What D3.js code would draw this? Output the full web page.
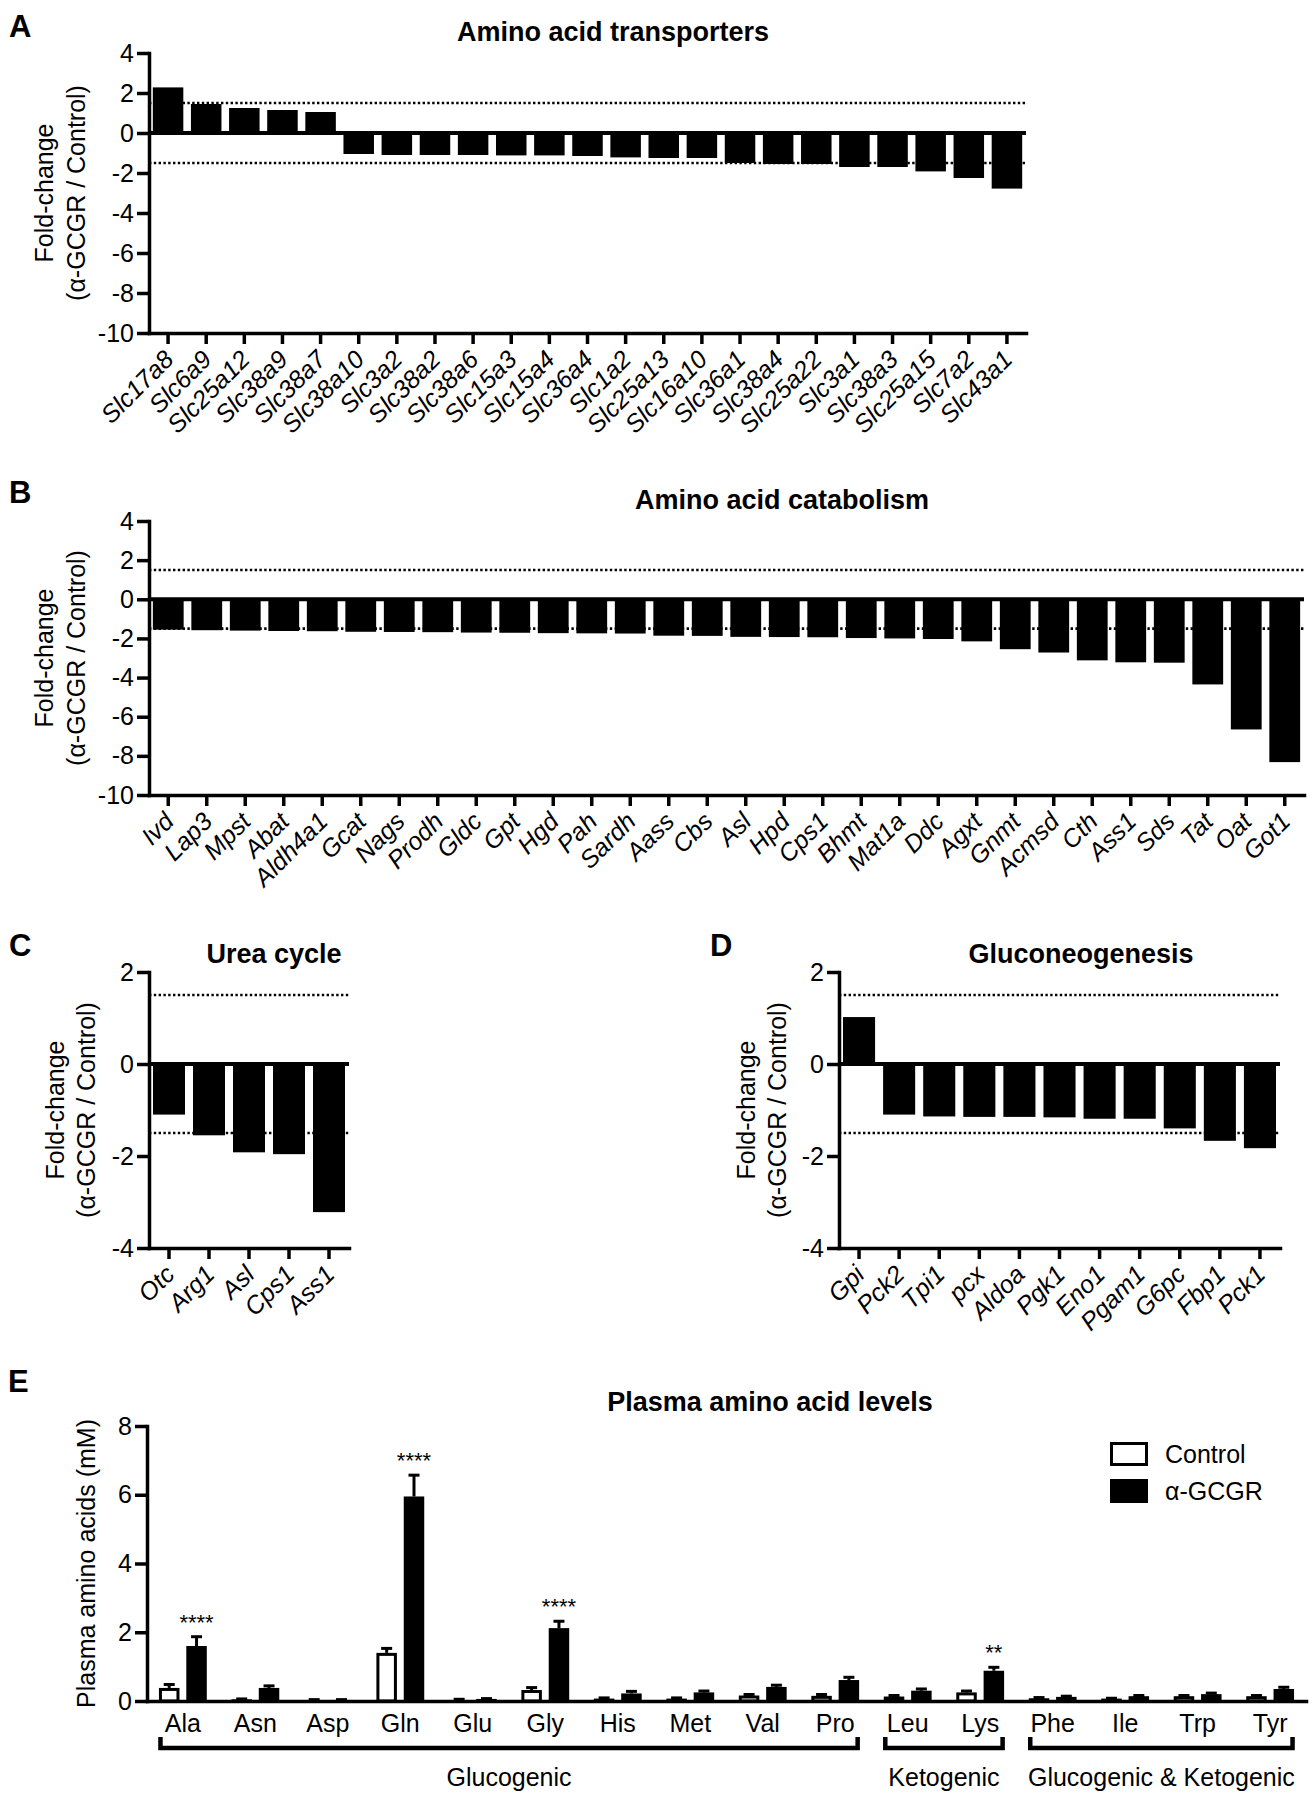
<!DOCTYPE html>
<html>
<head>
<meta charset="utf-8">
<title>Amino acid metabolism after glucagon receptor blockade</title>
<script src="https://cdn.jsdelivr.net/npm/d3@7"></script>
<style>
    body { margin: 0; background: #fff; }
    svg text { font-family: "Liberation Sans", Arial, Helvetica, sans-serif; fill: #000; }
</style>
</head>
<body>
<div id="chartholder"></div>
<script>
// ---- data ----
var transporterGenes = ['Slc17a8', 'Slc6a9', 'Slc25a12', 'Slc38a9', 'Slc38a7', 'Slc38a10', 'Slc3a2', 'Slc38a2',
    'Slc38a6', 'Slc15a3', 'Slc15a4', 'Slc36a4', 'Slc1a2', 'Slc25a13', 'Slc16a10', 'Slc36a1', 'Slc38a4',
    'Slc25a22', 'Slc3a1', 'Slc38a3', 'Slc25a15', 'Slc7a2', 'Slc43a1'];
var transporterFold = [2.28, 1.45, 1.25, 1.15, 1.05, -1.05, -1.1, -1.1, -1.1, -1.12, -1.12, -1.15, -1.22,
    -1.25, -1.25, -1.5, -1.55, -1.55, -1.7, -1.7, -1.92, -2.25, -2.78];

var catabolismGenes = ['Ivd', 'Lap3', 'Mpst', 'Abat', 'Aldh4a1', 'Gcat', 'Nags', 'Prodh', 'Gldc', 'Gpt', 'Hgd',
    'Pah', 'Sardh', 'Aass', 'Cbs', 'Asl', 'Hpd', 'Cps1', 'Bhmt', 'Mat1a', 'Ddc', 'Agxt', 'Gnmt', 'Acmsd',
    'Cth', 'Ass1', 'Sds', 'Tat', 'Oat', 'Got1'];
var catabolismFold = [-1.55, -1.58, -1.6, -1.62, -1.63, -1.66, -1.67, -1.68, -1.7, -1.71, -1.73, -1.74, -1.75,
    -1.86, -1.87, -1.92, -1.93, -1.94, -1.98, -2.0, -2.03, -2.15, -2.55, -2.72, -3.12, -3.22, -3.24, -4.35,
    -6.65, -8.32];

var ureaGenes = ['Otc', 'Arg1', 'Asl', 'Cps1', 'Ass1'];
var ureaFold = [-1.1, -1.55, -1.92, -1.96, -3.22];

var gngGenes = ['Gpi', 'Pck2', 'Tpi1', 'pcx', 'Aldoa', 'Pgk1', 'Eno1', 'Pgam1', 'G6pc', 'Fbp1', 'Pck1'];
var gngFold = [1.02, -1.1, -1.14, -1.15, -1.15, -1.16, -1.19, -1.19, -1.4, -1.67, -1.83];

var thresholds = [1.5, -1.5];
var foldTicksWide = [4, 2, 0, -2, -4, -6, -8, -10];
var foldTicksShort = [2, 0, -2, -4];

var aminoAcids = ['Ala', 'Asn', 'Asp', 'Gln', 'Glu', 'Gly', 'His', 'Met', 'Val', 'Pro', 'Leu', 'Lys', 'Phe', 'Ile', 'Trp', 'Tyr'];
var treatments = ['Control', 'α-GCGR'];
var controlMean = [0.38, 0.05, 0.03, 1.40, 0.04, 0.32, 0.07, 0.07, 0.16, 0.15, 0.13, 0.25, 0.08, 0.07, 0.14, 0.14];
var controlErr  = [0.10, 0.01, 0.01, 0.13, 0.01, 0.07, 0.02, 0.02, 0.03, 0.04, 0.03, 0.04, 0.02, 0.01, 0.02, 0.02];
var gcgrMean    = [1.60, 0.38, 0.03, 5.95, 0.06, 2.12, 0.22, 0.25, 0.41, 0.61, 0.30, 0.88, 0.12, 0.14, 0.20, 0.35];
var gcgrErr     = [0.27, 0.06, 0.01, 0.62, 0.01, 0.20, 0.06, 0.04, 0.05, 0.08, 0.05, 0.10, 0.02, 0.02, 0.03, 0.05];
var significance = ['****', '', '', '****', '', '****', '', '', '', '', '', '**', '', '', '', ''];
var plasmaTicks = [0, 2, 4, 6, 8];
var groupNames = ['Glucogenic', 'Ketogenic', 'Glucogenic & Ketogenic'];
var groupFirst = ['Ala', 'Leu', 'Phe'];
var groupLast  = ['Pro', 'Lys', 'Tyr'];

// ---- drawing ----
var svg = d3.select('#chartholder').append('svg')
    .attr('width', 1316)
    .attr('height', 1800);

function styleAxis(g) {
    g.attr('font-size', null).attr('font-family', null);
    g.select('.domain').attr('stroke-width', 3.5).attr('stroke-linecap', 'square');
    g.selectAll('.tick line').attr('stroke-width', 3.5);
    g.selectAll('.tick text').attr('font-size', 25);
}

function panelLetter(letter, x, y) {
    svg.append('text').attr('x', x).attr('y', y)
        .attr('font-size', 31).attr('font-weight', 'bold')
        .text(letter);
}

function panelTitle(text, cx, y) {
    svg.append('text').attr('x', cx).attr('y', y)
        .attr('text-anchor', 'middle')
        .attr('font-size', 27).attr('font-weight', 'bold')
        .text(text);
}

function foldTitle(x1, x2, cy) {
    [['Fold-change', x1], ['(α-GCGR / Control)', x2]].forEach(function (t) {
        svg.append('text')
            .attr('transform', 'translate(' + t[1] + ',' + cy + ') rotate(-90)')
            .attr('text-anchor', 'middle').attr('dy', '0.35em')
            .attr('font-size', 25)
            .text(t[0]);
    });
}

function foldPanel(opt) {
    var g = svg.append('g');

    var xScale = d3.scaleBand()
        .domain(opt.genes)
        .range([opt.left, opt.right])
        .paddingInner(0.2)
        .paddingOuter(0.1);

    var yScale = d3.scaleLinear()
        .domain([opt.ticks[opt.ticks.length - 1], opt.ticks[0]])
        .range([opt.bottom, opt.top]);

    // +/- 1.5 fold cut-offs
    g.selectAll('line.cutoff')
        .data(thresholds)
        .enter().append('line')
            .attr('x1', opt.left).attr('x2', opt.right)
            .attr('y1', function (d) { return yScale(d); })
            .attr('y2', function (d) { return yScale(d); })
            .attr('stroke', '#000').attr('stroke-width', 2.6)
            .attr('stroke-dasharray', '2.4,2.4');

    g.selectAll('rect.bar')
        .data(opt.values)
        .enter().append('rect')
            .attr('x', function (d, i) { return xScale(opt.genes[i]); })
            .attr('width', xScale.bandwidth())
            .attr('y', function (d) { return yScale(Math.max(0, d)); })
            .attr('height', function (d) { return Math.abs(yScale(d) - yScale(0)); })
            .attr('fill', '#000');

    // zero line
    g.append('line')
        .attr('x1', opt.left).attr('x2', opt.right)
        .attr('y1', yScale(0)).attr('y2', yScale(0))
        .attr('stroke', '#000').attr('stroke-width', 4);

    var yAxis = g.append('g')
        .attr('transform', 'translate(' + opt.left + ',0)')
        .call(d3.axisLeft(yScale).tickValues(opt.ticks)
            .tickFormat(function (d) { return String(d); })
            .tickSize(12).tickSizeOuter(0).tickPadding(3));
    styleAxis(yAxis);

    var xAxis = g.append('g')
        .attr('transform', 'translate(0,' + opt.bottom + ')')
        .call(d3.axisBottom(xScale).tickSize(11).tickSizeOuter(0));
    styleAxis(xAxis);
    xAxis.selectAll('.tick text')
        .attr('x', 0).attr('y', 0).attr('dy', 0)
        .attr('transform', 'translate(7,28) rotate(-45)')
        .attr('text-anchor', 'end')
        .attr('font-style', 'italic');
}

// A
panelLetter('A', 9, 37);
panelTitle('Amino acid transporters', 613, 41);
foldTitle(44, 76, 193);
foldPanel({ genes: transporterGenes, values: transporterFold, ticks: foldTicksWide,
    left: 149, right: 1026, top: 53, bottom: 333 });

// B
panelLetter('B', 9, 503);
panelTitle('Amino acid catabolism', 782, 509);
foldTitle(44, 76, 658);
foldPanel({ genes: catabolismGenes, values: catabolismFold, ticks: foldTicksWide,
    left: 149, right: 1304, top: 521, bottom: 795 });

// C
panelLetter('C', 9, 956);
panelTitle('Urea cycle', 274, 963);
foldTitle(55, 86, 1110);
foldPanel({ genes: ureaGenes, values: ureaFold, ticks: foldTicksShort,
    left: 149, right: 349, top: 972, bottom: 1248 });

// D
panelLetter('D', 710, 956);
panelTitle('Gluconeogenesis', 1081, 963);
foldTitle(746, 777, 1110);
foldPanel({ genes: gngGenes, values: gngFold, ticks: foldTicksShort,
    left: 839, right: 1280, top: 972, bottom: 1248 });

// E
(function () {
    var left = 147, right = 1306, top = 1426, bottom = 1701;
    panelLetter('E', 8, 1392);
    panelTitle('Plasma amino acid levels', 770, 1411);

    svg.append('text')
        .attr('transform', 'translate(86,' + ((top + bottom) / 2) + ') rotate(-90)')
        .attr('text-anchor', 'middle').attr('dy', '0.35em')
        .attr('font-size', 25)
        .text('Plasma amino acids (mM)');

    var x0 = d3.scaleBand().domain(aminoAcids).range([left, right])
        .paddingInner(0.34).paddingOuter(0.165);
    var x1 = d3.scaleBand().domain(treatments).range([0, x0.bandwidth()])
        .paddingInner(0.25);
    var y = d3.scaleLinear().domain([0, 8]).range([bottom, top]);

    var rows = aminoAcids.map(function (aa, i) {
        return [
            { aa: aa, t: treatments[0], mean: controlMean[i], err: controlErr[i] },
            { aa: aa, t: treatments[1], mean: gcgrMean[i], err: gcgrErr[i] }
        ];
    });
    var flat = [].concat.apply([], rows);

    var g = svg.append('g');

    // error bars (upper only)
    var eb = g.selectAll('g.err').data(flat).enter().append('g');
    eb.append('line')
        .attr('x1', function (d) { return x0(d.aa) + x1(d.t) + x1.bandwidth() / 2; })
        .attr('x2', function (d) { return x0(d.aa) + x1(d.t) + x1.bandwidth() / 2; })
        .attr('y1', function (d) { return y(d.mean); })
        .attr('y2', function (d) { return y(d.mean + d.err); })
        .attr('stroke', '#000').attr('stroke-width', 3);
    eb.append('line')
        .attr('x1', function (d) { return x0(d.aa) + x1(d.t) + x1.bandwidth() / 2 - 5.5; })
        .attr('x2', function (d) { return x0(d.aa) + x1(d.t) + x1.bandwidth() / 2 + 5.5; })
        .attr('y1', function (d) { return y(d.mean + d.err); })
        .attr('y2', function (d) { return y(d.mean + d.err); })
        .attr('stroke', '#000').attr('stroke-width', 3);

    g.selectAll('rect.bar').data(flat).enter().append('rect')
        .attr('x', function (d) { return x0(d.aa) + x1(d.t) + (d.t === treatments[0] ? 1.5 : 0); })
        .attr('width', function (d) { return x1.bandwidth() - (d.t === treatments[0] ? 3 : 0); })
        .attr('y', function (d) { return y(d.mean) + (d.t === treatments[0] ? 1.5 : 0); })
        .attr('height', function (d) { return Math.max(0, y(0) - y(d.mean) - (d.t === treatments[0] ? 1.5 : 0)); })
        .attr('fill', function (d) { return d.t === treatments[0] ? '#fff' : '#000'; })
        .attr('stroke', '#000')
        .attr('stroke-width', function (d) { return d.t === treatments[0] ? 3 : 0; });

    // significance stars above alpha-GCGR bars
    g.selectAll('text.sig').data(aminoAcids).enter().append('text')
        .attr('x', function (d) { return x0(d) + x1(treatments[1]) + x1.bandwidth() / 2; })
        .attr('y', function (d, i) { return y(gcgrMean[i] + gcgrErr[i]) - 7; })
        .attr('text-anchor', 'middle')
        .attr('font-size', 22)
        .text(function (d, i) { return significance[i]; });

    var yAxis = g.append('g')
        .attr('transform', 'translate(' + left + ',0)')
        .call(d3.axisLeft(y).tickValues(plasmaTicks).tickSize(12).tickSizeOuter(0).tickPadding(3));
    styleAxis(yAxis);

    var xAxis = g.append('g')
        .attr('transform', 'translate(0,' + bottom + ')')
        .call(d3.axisBottom(x0).tickSize(0).tickSizeOuter(0).tickPadding(13));
    styleAxis(xAxis);

    // group brackets
    groupNames.forEach(function (name, i) {
        var a = x0(groupFirst[i]) + 1.5;
        var b = x0(groupLast[i]) + x0.bandwidth() - 1.5;
        g.append('path')
            .attr('d', 'M' + a + ',1737V1748H' + b + 'V1737')
            .attr('fill', 'none').attr('stroke', '#000').attr('stroke-width', 4.5);
        g.append('text')
            .attr('x', (a + b) / 2).attr('y', 1786)
            .attr('text-anchor', 'middle').attr('font-size', 25)
            .text(name);
    });

    // legend
    var legend = g.append('g').attr('transform', 'translate(1110,1442)');
    legend.selectAll('rect').data(treatments).enter().append('rect')
        .attr('x', 1.5).attr('y', function (d, i) { return i * 37 + 1.5; })
        .attr('width', 35).attr('height', 21)
        .attr('fill', function (d, i) { return i === 0 ? '#fff' : '#000'; })
        .attr('stroke', '#000').attr('stroke-width', 3);
    legend.selectAll('text').data(treatments).enter().append('text')
        .attr('x', 55).attr('y', function (d, i) { return i * 37 + 12; })
        .attr('dy', '0.35em').attr('font-size', 25)
        .text(function (d) { return d; });
})();
</script>
</body>
</html>
